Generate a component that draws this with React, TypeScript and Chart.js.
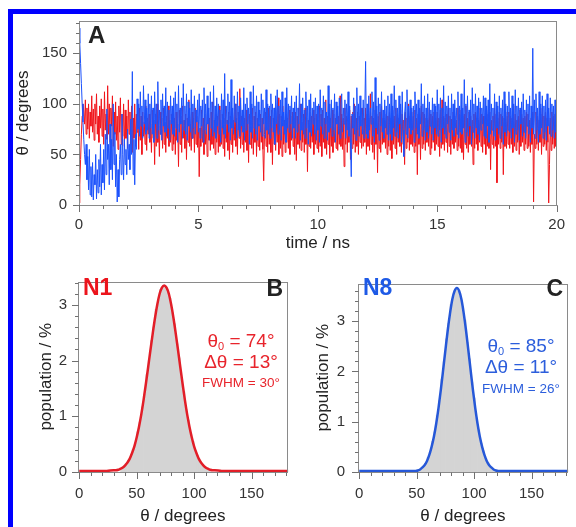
import React, { useEffect, useRef } from 'react';
import { Chart, registerables } from 'chart.js';

Chart.register(...registerables);

const FONT = '"Liberation Sans", Arimo, Arial, Helvetica, sans-serif';

// ---------- Panel A: theta vs time (30 samples per ns) ----------
const TIME_END_NS = 20;
const A_X_MAX = 20;
const A_Y_MAX = 182;

const N1_THETA = [
  2, 20, 45, 70, 88, 100, 92, 80, 104, 70, 96, 75, 100, 66, 92, 78, 108, 72, 95, 64, 100, 80, 110, 70, 88, 62, 98, 76, 105, 68,
  95, 60, 112, 74, 90, 65, 118, 70, 100, 62, 96, 78, 108, 58, 92, 70, 102, 64, 88, 55, 98, 72, 106, 60, 90, 68, 100, 58, 94, 66,
  88, 56, 104, 70, 92, 60, 98, 52, 86, 66, 100, 58, 90, 72, 84, 55, 96, 64, 88, 50, 92, 68, 82, 60, 98, 54, 86, 70, 90, 62,
  80, 52, 94, 66, 84, 40, 90, 58, 100, 62, 78, 48, 92, 70, 86, 56, 96, 60, 82, 52, 88, 66, 98, 58, 84, 62, 90, 54, 96, 60,
  86, 50, 92, 64, 80, 38, 94, 60, 88, 52, 98, 66, 84, 56, 90, 45, 86, 62, 104, 58, 80, 54, 92, 66, 86, 52, 96, 60, 88, 57,
  82, 28, 76, 58, 94, 62, 86, 50, 90, 60, 80, 48, 96, 64, 86, 54, 92, 60, 102, 56, 84, 50, 90, 62, 88, 52, 98, 58, 84, 60,
  90, 56, 86, 48, 98, 62, 84, 54, 92, 45, 88, 60, 96, 52, 84, 64, 100, 58, 86, 50, 92, 66, 115, 56, 88, 60, 94, 52, 86, 62,
  94, 54, 88, 42, 90, 60, 84, 56, 96, 50, 88, 62, 92, 48, 86, 58, 80, 54, 90, 62, 86, 55, 24, 70, 92, 58, 88, 52, 96, 60,
  88, 52, 94, 40, 86, 60, 96, 54, 84, 62, 106, 50, 90, 56, 88, 48, 98, 60, 84, 52, 90, 62, 86, 56, 94, 50, 88, 64, 92, 58,
  86, 50, 92, 44, 88, 60, 96, 56, 100, 54, 82, 62, 90, 52, 96, 60, 86, 33, 84, 58, 92, 56, 88, 62, 94, 50, 86, 60, 90, 56,
  84, 52, 98, 58, 90, 48, 94, 62, 86, 56, 104, 50, 88, 60, 92, 46, 86, 58, 94, 52, 90, 62, 86, 56, 96, 54, 88, 60, 108, 58,
  90, 55, 86, 38, 96, 60, 88, 52, 84, 62, 94, 45, 88, 56, 92, 60, 100, 52, 86, 58, 92, 50, 88, 62, 84, 56, 96, 58, 86, 62,
  96, 50, 90, 58, 86, 54, 110, 60, 88, 52, 86, 45, 94, 60, 90, 32, 88, 56, 92, 52, 98, 60, 86, 62, 84, 56, 90, 50, 88, 58,
  92, 54, 86, 46, 94, 60, 88, 56, 96, 50, 90, 62, 86, 58, 94, 52, 90, 60, 84, 40, 92, 56, 86, 62, 100, 54, 88, 60, 92, 58,
  88, 52, 94, 58, 86, 30, 90, 60, 86, 45, 98, 56, 92, 60, 90, 54, 86, 62, 84, 58, 96, 50, 90, 56, 88, 62, 92, 54, 86, 60,
  92, 58, 86, 48, 94, 56, 104, 60, 88, 54, 86, 62, 90, 52, 96, 58, 88, 50, 85, 60, 92, 56, 88, 62, 84, 54, 96, 58, 90, 56,
  94, 52, 88, 45, 90, 60, 98, 56, 86, 52, 92, 60, 88, 58, 84, 40, 90, 56, 92, 60, 86, 54, 84, 62, 96, 58, 90, 52, 88, 60,
  88, 50, 94, 58, 90, 56, 92, 35, 84, 60, 88, 56, 96, 58, 90, 22, 86, 60, 92, 56, 90, 62, 88, 30, 86, 58, 92, 56, 88, 60,
  92, 56, 88, 60, 86, 52, 98, 58, 90, 54, 84, 62, 88, 50, 94, 58, 90, 62, 86, 54, 88, 60, 92, 56, 90, 58, 84, 52, 86, 60,
  92, 3, 70, 56, 92, 60, 88, 54, 84, 62, 90, 50, 96, 58, 88, 60, 92, 54, 86, 62, 2, 40, 86, 54, 92, 60, 88, 56, 90, 58,
  84,
];

const N8_THETA = [
  175, 160, 140, 120, 100, 82, 65, 50, 40, 60, 25, 48, 15, 55, 10, 38, 8, 42, 5, 30, 20, 50, 6, 35, 12, 45, 18, 60, 10, 40,
  22, 55, 15, 70, 30, 95, 45, 60, 20, 80, 35, 65, 25, 100, 40, 72, 18, 50, 3, 35, 8, 45, 60, 30, 90, 50, 25, 65, 40, 55,
  30, 75, 45, 60, 35, 85, 50, 132, 30, 65, 20, 70, 55, 105, 75, 100, 68, 112, 78, 98, 66, 118, 80, 104, 70, 96, 74, 110, 66, 100,
  76, 108, 70, 96, 62, 112, 80, 100, 66, 122, 74, 94, 70, 104, 64, 110, 78, 98, 72, 116, 68, 102, 76, 94, 64, 108, 80, 98, 70, 106,
  68, 112, 76, 100, 62, 118, 72, 96, 80, 106, 66, 120, 74, 98, 70, 110, 64, 102, 78, 96, 72, 114, 66, 100, 76, 108, 70, 94, 82, 104,
  72, 110, 66, 98, 78, 104, 62, 116, 74, 100, 70, 108, 80, 96, 64, 112, 76, 102, 68, 118, 72, 98, 66, 106, 78, 100, 70, 94, 62, 110,
  76, 104, 70, 130, 66, 98, 80, 110, 72, 102, 64, 124, 76, 96, 70, 108, 82, 100, 66, 112, 74, 98, 68, 106, 78, 94, 72, 116, 64, 100,
  74, 106, 80, 96, 60, 112, 72, 100, 66, 118, 76, 98, 70, 108, 64, 102, 78, 94, 72, 110, 68, 104, 80, 96, 66, 114, 74, 100, 70, 98,
  66, 110, 76, 100, 72, 96, 60, 108, 80, 114, 70, 98, 74, 104, 64, 112, 78, 92, 70, 106, 62, 116, 76, 100, 72, 98, 80, 108, 66, 96,
  76, 102, 66, 108, 72, 96, 80, 120, 64, 100, 74, 106, 70, 94, 66, 112, 76, 98, 60, 104, 72, 110, 68, 96, 80, 102, 70, 106, 64, 98,
  74, 100, 62, 114, 78, 96, 70, 108, 66, 102, 80, 92, 64, 118, 72, 100, 76, 104, 68, 96, 74, 110, 62, 102, 80, 98, 70, 106, 66, 100,
  110, 72, 96, 80, 104, 66, 100, 74, 112, 68, 98, 62, 28, 90, 76, 106, 70, 98, 64, 116, 74, 100, 68, 108, 78, 96, 70, 104, 66, 94,
  142, 70, 100, 66, 108, 74, 96, 80, 112, 68, 102, 62, 126, 76, 98, 70, 106, 64, 100, 78, 112, 72, 94, 66, 104, 76, 98, 70, 108, 64,
  100, 70, 110, 64, 98, 76, 118, 68, 104, 72, 96, 66, 108, 80, 100, 62, 112, 74, 48, 90, 102, 70, 114, 66, 98, 76, 104, 70, 96, 74,
  98, 62, 112, 76, 100, 70, 104, 66, 96, 80, 120, 68, 100, 74, 108, 64, 96, 72, 110, 66, 102, 78, 94, 70, 106, 64, 100, 76, 98, 70,
  114, 68, 100, 74, 106, 62, 96, 76, 118, 70, 102, 66, 98, 80, 108, 72, 96, 64, 110, 74, 100, 68, 104, 76, 96, 70, 112, 66, 98, 72,
  110, 70, 96, 76, 124, 62, 100, 72, 108, 68, 94, 78, 104, 60, 116, 72, 100, 66, 110, 76, 98, 70, 106, 64, 102, 74, 96, 80, 108, 68,
  106, 66, 98, 78, 104, 62, 120, 70, 100, 74, 96, 68, 110, 64, 102, 76, 98, 70, 108, 66, 96, 78, 104, 60, 112, 72, 100, 68, 98, 74,
  112, 72, 96, 66, 108, 76, 100, 62, 114, 70, 98, 74, 106, 64, 96, 80, 102, 68, 110, 72, 94, 66, 104, 78, 100, 70, 108, 62, 98, 76,
  155, 70, 104, 66, 110, 74, 96, 62, 112, 70, 100, 76, 108, 66, 98, 72, 104, 64, 110, 78, 96, 70, 106, 68, 100, 74, 98, 66, 104, 72,
  76,
];

// ---------- Panel B: N1 distribution ----------
const N1_HIST_CENTERS = [
  37, 39, 41, 43, 45, 47, 49, 51, 53, 55, 57, 59, 61, 63, 65, 67, 69, 71, 73, 75,
  77, 79, 81, 83, 85, 87, 89, 91, 93, 95, 97, 99, 101, 103, 105, 107, 109, 111, 113,
];
const N1_HIST_POP = [
  0.07, 0.10, 0.15, 0.20, 0.27, 0.41, 0.52, 0.72, 0.89, 1.17, 1.40, 1.75, 2.00, 2.36, 2.60, 2.92, 3.08, 3.28, 3.30, 3.31,
  3.22, 3.12, 2.86, 2.66, 2.30, 2.05, 1.70, 1.44, 1.12, 0.93, 0.68, 0.55, 0.37, 0.29, 0.18, 0.13, 0.08, 0.06, 0.03,
];
const N1_FIT_X = [
  0, 24, 30, 32, 34, 36, 38, 40, 42, 44, 46, 48, 50, 52, 54, 56, 58, 60, 62, 64, 66, 68, 70, 72, 74,
  76, 78, 80, 82, 84, 86, 88, 90, 92, 94, 96, 98, 100, 102, 104, 106, 108, 110, 112, 114, 116, 118, 124, 182,
];
const N1_FIT_Y = [
  0.02, 0.02, 0.03, 0.03, 0.04, 0.06, 0.08, 0.12, 0.17, 0.24, 0.34, 0.46, 0.62, 0.81, 1.03, 1.29, 1.58, 1.88, 2.19, 2.49, 2.77, 3.01, 3.20, 3.31, 3.35,
  3.31, 3.20, 3.01, 2.77, 2.49, 2.19, 1.88, 1.58, 1.29, 1.03, 0.81, 0.62, 0.46, 0.34, 0.24, 0.17, 0.12, 0.08, 0.06, 0.04, 0.03, 0.03, 0.02, 0.02,
];
const N1_THETA0 = 74;
const N1_DTHETA = 13;
const N1_FWHM = 30;
const B_Y_MAX = 3.42;

// ---------- Panel C: N8 distribution ----------
const N8_HIST_CENTERS = [
  52, 54, 56, 58, 60, 62, 64, 66, 68, 70, 72, 74, 76, 78, 80, 82, 84,
  86, 88, 90, 92, 94, 96, 98, 100, 102, 104, 106, 108, 110, 112, 114, 116, 118,
];
const N8_HIST_POP = [
  0.05, 0.07, 0.12, 0.17, 0.29, 0.40, 0.61, 0.80, 1.13, 1.42, 1.85, 2.19, 2.65, 2.96, 3.33, 3.49, 3.64,
  3.60, 3.50, 3.27, 3.02, 2.58, 2.25, 1.79, 1.47, 1.08, 0.84, 0.57, 0.42, 0.27, 0.19, 0.10, 0.08, 0.04,
];
const N8_FIT_X = [
  0, 40, 45, 47, 49, 51, 53, 55, 57, 59, 61, 63, 65, 67, 69, 71, 73, 75, 77, 79, 81, 83, 85,
  87, 89, 91, 93, 95, 97, 99, 101, 103, 105, 107, 109, 111, 113, 115, 117, 119, 121, 123, 125, 130, 182,
];
const N8_FIT_Y = [
  0.02, 0.02, 0.02, 0.02, 0.02, 0.03, 0.05, 0.09, 0.14, 0.22, 0.34, 0.50, 0.70, 0.96, 1.27, 1.63, 2.02, 2.42, 2.81, 3.15, 3.43, 3.60, 3.66,
  3.60, 3.43, 3.15, 2.81, 2.42, 2.02, 1.63, 1.27, 0.96, 0.70, 0.50, 0.34, 0.22, 0.14, 0.09, 0.05, 0.03, 0.02, 0.02, 0.02, 0.02, 0.02,
];
const N8_THETA0 = 85;
const N8_DTHETA = 11;
const N8_FWHM = 26;
const C_Y_MAX = 3.75;

const HIST_X_MIN = -1.5;
const HIST_X_MAX = 182;

// ---------- styling ----------
const RED_TS = 'rgb(240,22,28)';
const BLUE_TS = 'rgb(28,82,252)';
const RED_FIT = 'rgb(226,30,40)';
const BLUE_FIT = 'rgb(38,88,216)';
const RED_TXT = 'rgb(232,36,44)';
const BLUE_TXT = 'rgb(44,94,220)';
const HIST_GRAY = 'rgb(212,212,212)';
const TICK_COLOR = '#333';
const TITLE_COLOR = '#222';
const FRAME_COLOR = '#8a8a8a';

type Part = { t: string; size: number; bold?: boolean; dy?: number };
type TextItem = { x: number; y: number; align: 'left' | 'center' | 'right'; color: string; parts: Part[] };
type DecoCfg = { xMajor: number; xMinor: number; yMajor: number; yMinor: number; texts: TextItem[] };

function makeDeco(cfg: DecoCfg) {
  return {
    id: 'deco',
    afterDraw(chart: any) {
      const { ctx, chartArea: a, scales } = chart;
      const xs = scales.x;
      const ys = scales.y;
      ctx.save();
      ctx.strokeStyle = FRAME_COLOR;
      ctx.lineWidth = 1;
      ctx.strokeRect(Math.round(a.left) + 0.5, Math.round(a.top) + 0.5, Math.round(a.right) - Math.round(a.left) - 1, Math.round(a.bottom) - Math.round(a.top));
      ctx.strokeStyle = '#707070';
      ctx.beginPath();
      const bottom = Math.round(a.bottom) + 0.5;
      const left = Math.round(a.left) + 0.5;
      const xTicks = (step: number, len: number) => {
        for (let k = Math.ceil(xs.min / step - 1e-9); k * step <= xs.max + 1e-9; k++) {
          const px = Math.round(xs.getPixelForValue(k * step)) + 0.5;
          ctx.moveTo(px, bottom);
          ctx.lineTo(px, bottom + len);
        }
      };
      const yTicks = (step: number, len: number) => {
        for (let k = Math.ceil(ys.min / step - 1e-9); k * step <= ys.max + 1e-9; k++) {
          const py = Math.round(ys.getPixelForValue(k * step)) + 0.5;
          ctx.moveTo(left, py);
          ctx.lineTo(left - len, py);
        }
      };
      xTicks(cfg.xMinor, 3.5);
      xTicks(cfg.xMajor, 6.5);
      yTicks(cfg.yMinor, 3.5);
      yTicks(cfg.yMajor, 6.5);
      ctx.stroke();
      ctx.textBaseline = 'middle';
      ctx.textAlign = 'left';
      for (const item of cfg.texts) {
        let total = 0;
        const widths = item.parts.map((p) => {
          ctx.font = `${p.bold ? 'bold ' : ''}${p.size}px ${FONT}`;
          const w = ctx.measureText(p.t).width;
          total += w;
          return w;
        });
        let x = item.align === 'left' ? item.x : item.align === 'right' ? item.x - total : item.x - total / 2;
        ctx.fillStyle = item.color;
        item.parts.forEach((p, i) => {
          ctx.font = `${p.bold ? 'bold ' : ''}${p.size}px ${FONT}`;
          ctx.fillText(p.t, x, item.y + (p.dy || 0));
          x += widths[i];
        });
      }
      ctx.restore();
    },
  };
}

function axisCommon(opts: {
  min: number; max: number; step: number; labelPad: number; title: string; titlePad: any; fit: (s: any) => void;
}) {
  return {
    type: 'linear',
    min: opts.min,
    max: opts.max,
    offset: false,
    afterFit: opts.fit,
    grid: { display: false, drawTicks: false },
    border: { display: false },
    ticks: {
      stepSize: opts.step,
      includeBounds: false,
      autoSkip: false,
      maxRotation: 0,
      padding: opts.labelPad,
      color: TICK_COLOR,
      font: { family: FONT, size: 15 },
    },
    title: {
      display: true,
      text: opts.title,
      color: TITLE_COLOR,
      font: { family: FONT, size: 17 },
      padding: opts.titlePad,
    },
  };
}

function statsTexts(cx: number, y0: number, y1: number, y2: number, color: string, t0: number, dt: number, fw: number): TextItem[] {
  return [
    { x: cx, y: y0, align: 'center', color, parts: [{ t: 'θ', size: 19 }, { t: '0', size: 11, dy: 5 }, { t: ` = ${t0}°`, size: 19 }] },
    { x: cx, y: y1, align: 'center', color, parts: [{ t: `Δθ = ${dt}°`, size: 19 }] },
    { x: cx, y: y2, align: 'center', color, parts: [{ t: `FWHM = ${fw}°`, size: 13.5 }] },
  ];
}

function ChartBox({ left, top, width, height, make }: { left: number; top: number; width: number; height: number; make: () => any }) {
  const ref = useRef<HTMLCanvasElement | null>(null);
  useEffect(() => {
    if (!ref.current) return;
    const chart = new Chart(ref.current, make());
    return () => chart.destroy();
  }, []);
  return (
    <canvas
      ref={ref}
      width={width}
      height={height}
      style={{ position: 'absolute', left, top, width, height }}
    />
  );
}

function makeA() {
  const dt = TIME_END_NS / (N1_THETA.length - 1);
  const dtB = TIME_END_NS / (N8_THETA.length - 1);
  const red = N1_THETA.map((v, i) => ({ x: i * dt, y: v }));
  const blue = N8_THETA.map((v, i) => ({ x: i * dtB, y: v }));
  return {
    type: 'line',
    data: {
      datasets: [
        { data: blue, borderColor: BLUE_TS, borderWidth: 1, pointRadius: 0, tension: 0, order: 0 },
        { data: red, borderColor: RED_TS, borderWidth: 1, pointRadius: 0, tension: 0, order: 1 },
      ],
    },
    options: {
      responsive: false,
      animation: false,
      events: [],
      layout: { padding: { top: 17, right: 9, left: 0, bottom: 0 } },
      plugins: { legend: { display: false }, tooltip: { enabled: false } },
      scales: {
        x: axisCommon({ min: 0, max: A_X_MAX, step: 5, labelPad: 11, title: 'time / ns', titlePad: { top: 0, bottom: 8 }, fit: (s) => { s.height = 57; } }),
        y: axisCommon({ min: 0, max: A_Y_MAX, step: 50, labelPad: 12, title: 'θ / degrees', titlePad: { top: 13, bottom: 0 }, fit: (s) => { s.width = 79; } }),
      },
    },
    plugins: [
      makeDeco({
        xMajor: 5, xMinor: 1, yMajor: 50, yMinor: 10,
        texts: [{ x: 88, y: 36.5, align: 'left', color: '#222', parts: [{ t: 'A', size: 24, bold: true }] }],
      }),
    ],
  };
}

function makeHist(p: {
  centers: number[]; pop: number[]; fitX: number[]; fitY: number[]; yMax: number; fitColor: string;
  yWidth: number; yLabelPad: number; yTitlePad: number; texts: TextItem[];
}) {
  return {
    type: 'bar',
    data: {
      datasets: [
        {
          type: 'line',
          data: p.fitX.map((x, i) => ({ x, y: p.fitY[i] })),
          borderColor: p.fitColor,
          borderWidth: 2.5,
          pointRadius: 0,
          cubicInterpolationMode: 'monotone',
          order: 0,
        },
        {
          type: 'bar',
          data: p.centers.map((x, i) => ({ x, y: p.pop[i] })),
          backgroundColor: HIST_GRAY,
          borderWidth: 0,
          barPercentage: 1,
          categoryPercentage: 1,
          order: 1,
        },
      ],
    },
    options: {
      responsive: false,
      animation: false,
      events: [],
      layout: { padding: { top: 11, right: 7.7, left: 0, bottom: 0 } },
      plugins: { legend: { display: false }, tooltip: { enabled: false } },
      scales: {
        x: axisCommon({ min: HIST_X_MIN, max: HIST_X_MAX, step: 50, labelPad: 13, title: 'θ / degrees', titlePad: { top: 0, bottom: 0 }, fit: (s) => { s.height = 55; } }),
        y: axisCommon({ min: 0, max: p.yMax, step: 1, labelPad: p.yLabelPad, title: 'population / %', titlePad: { top: p.yTitlePad, bottom: 0 }, fit: (s) => { s.width = p.yWidth; } }),
      },
    },
    plugins: [makeDeco({ xMajor: 50, xMinor: 10, yMajor: 1, yMinor: 0.2, texts: p.texts })],
  };
}

function makeB() {
  return makeHist({
    centers: N1_HIST_CENTERS, pop: N1_HIST_POP, fitX: N1_FIT_X, fitY: N1_FIT_Y, yMax: B_Y_MAX, fitColor: RED_FIT,
    yWidth: 77.5, yLabelPad: 10.5, yTitlePad: 36.5,
    texts: [
      { x: 83, y: 26.5, align: 'left', color: 'rgb(236,20,28)', parts: [{ t: 'N1', size: 23, bold: true }] },
      { x: 283, y: 27.5, align: 'right', color: '#222', parts: [{ t: 'B', size: 23, bold: true }] },
      ...statsTexts(241, 80, 101, 121, RED_TXT, N1_THETA0, N1_DTHETA, N1_FWHM),
    ],
  });
}

function makeC() {
  return makeHist({
    centers: N8_HIST_CENTERS, pop: N8_HIST_POP, fitX: N8_FIT_X, fitY: N8_FIT_Y, yMax: C_Y_MAX, fitColor: BLUE_FIT,
    yWidth: 61.5, yLabelPad: 12.5, yTitlePad: 16.8,
    texts: [
      { x: 67, y: 27, align: 'left', color: 'rgb(30,90,230)', parts: [{ t: 'N8', size: 23, bold: true }] },
      { x: 267, y: 27.5, align: 'right', color: '#222', parts: [{ t: 'C', size: 23, bold: true }] },
      ...statsTexts(225, 84.7, 106, 127, BLUE_TXT, N8_THETA0, N8_DTHETA, N8_FWHM),
    ],
  });
}

export default function App() {
  return (
    <div style={{ position: 'absolute', left: 0, top: 0, width: 576, height: 527, overflow: 'hidden', background: '#fff' }}>
      <div style={{ position: 'absolute', left: 8, top: 9, width: 700, height: 700, border: '5px solid rgb(0,0,255)' }} />
      <ChartBox left={0} top={0} width={576} height={262} make={makeA} />
      <ChartBox left={0} top={262} width={296} height={265} make={makeB} />
      <ChartBox left={296} top={262} width={280} height={265} make={makeC} />
    </div>
  );
}
